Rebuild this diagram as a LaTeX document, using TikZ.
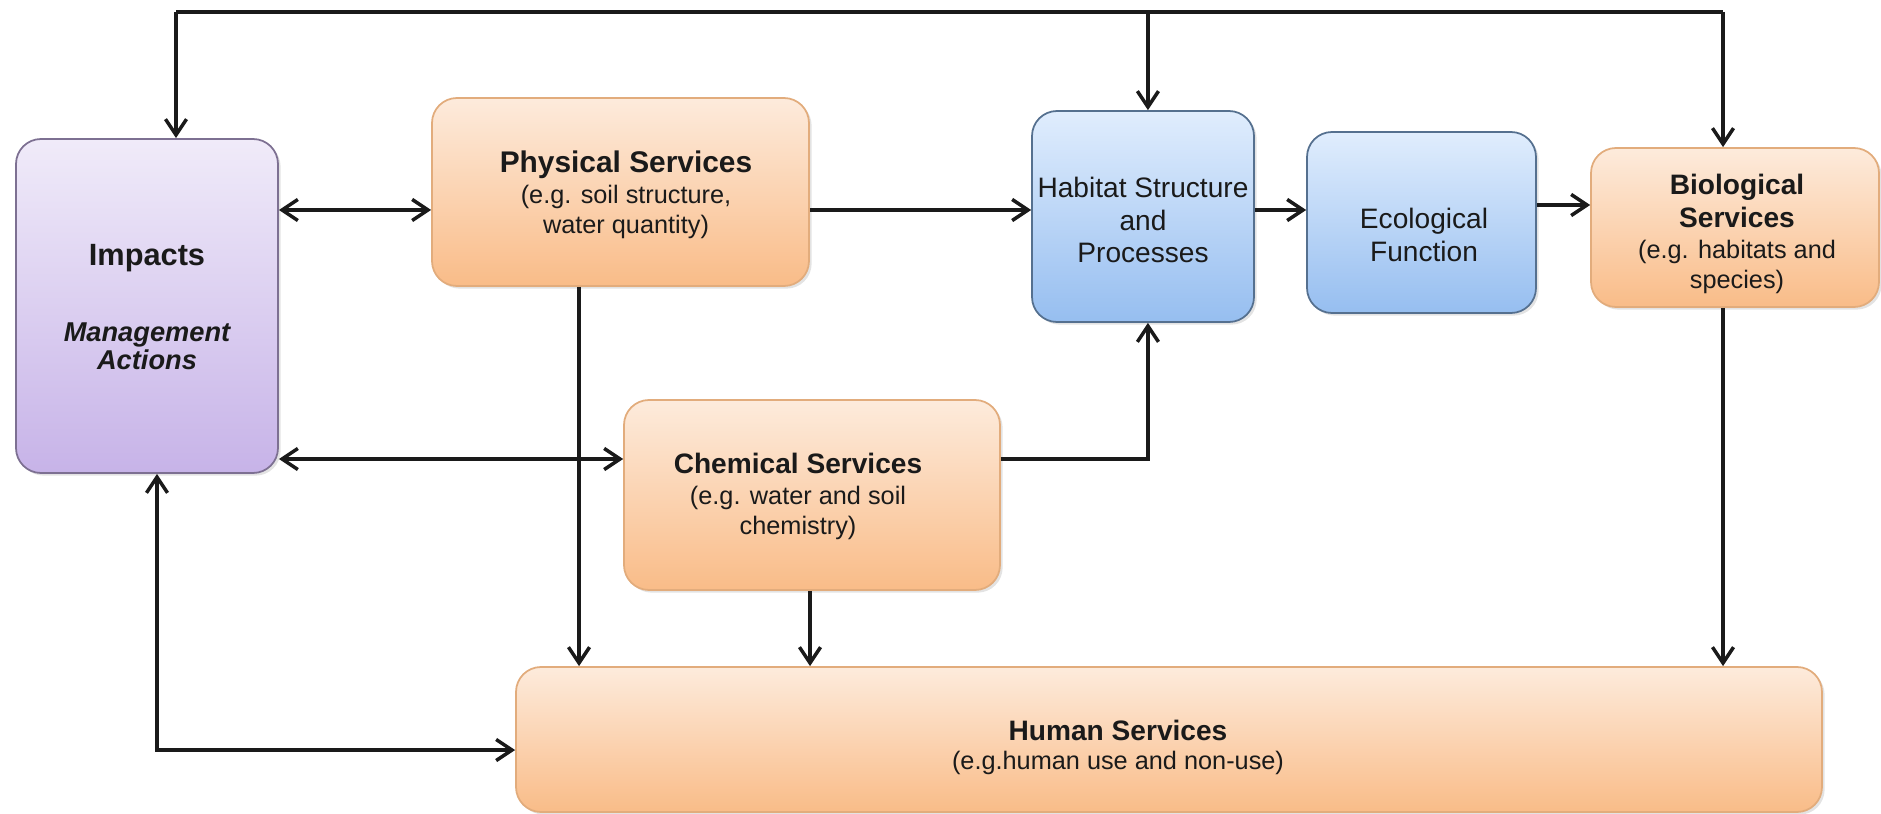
\documentclass[tikz,border=0pt]{standalone}
\usepackage{fontspec}
\setmainfont{Liberation Sans}
\usetikzlibrary{arrows.meta,fit,shadows}
\definecolor{orT}{HTML}{FDEBDC}
\definecolor{orB}{HTML}{F9BC88}
\definecolor{orL}{HTML}{E2AC7C}
\definecolor{blT}{HTML}{E0EDFD}
\definecolor{blB}{HTML}{96BEF0}
\definecolor{blL}{HTML}{55708F}
\definecolor{puT}{HTML}{F0EBF9}
\definecolor{puB}{HTML}{C7B3E8}
\definecolor{puL}{HTML}{7D7092}
\definecolor{ink}{HTML}{1A1A1A}
\begin{document}
\begin{tikzpicture}[x=0.02cm,y=-0.02cm,
  box/.style={rectangle, rounded corners=0.5cm, inner sep=0pt, line width=1pt,
    drop shadow={shadow xshift=1.5pt,shadow yshift=-1.5pt,opacity=0.22}},
  orangebox/.style={box, draw=orL, top color=orT, bottom color=orB},
  bluebox/.style={box, draw=blL, top color=blT, bottom color=blB},
  purplebox/.style={box, draw=puL, top color=puT, bottom color=puB},
  txt/.style={align=center, inner sep=0pt, text=ink},
  ttl/.style={txt, font=\fontsize{16}{18.8}\selectfont\bfseries},
  sub/.style={txt, font=\fontsize{14.4}{17}\selectfont},
  reg/.style={txt, font=\fontsize{16}{18.6}\selectfont},
  conn/.style={line width=2pt, draw=ink},
  >={Straight Barb[length=9pt,width=12pt]}]
\useasboundingbox (0,0) rectangle (1881,814);

% boxes
\node[purplebox, fit={(16,139) (278,473)}] (impacts) {};
\node[orangebox, fit={(432,98) (809,286)}] (phys) {};
\node[bluebox, fit={(1032,111) (1254,322)}] (hab) {};
\node[bluebox, fit={(1307,132) (1536,313)}] (eco) {};
\node[orangebox, fit={(1591,148) (1879,307)}] (bio) {};
\node[orangebox, fit={(624,400) (1000,590)}] (chem) {};
\node[orangebox, fit={(516,667) (1822,812)}] (hum) {};

% texts
\node[txt, font=\fontsize{17.5}{20}\selectfont\bfseries] (impacts-t) at (147,258) {Impacts};
\node[txt, font=\fontsize{15.5}{16.2}\selectfont\bfseries\itshape] (impacts-m) at (147,346) {Management\\Actions};
\node[txt, font=\fontsize{17}{19}\selectfont\bfseries] (phys-t) at (626,165) {Physical Services};
\node[sub] (phys-s) at (626,212) {(e.g. soil structure,\\water quantity)};
\node[reg] (hab-t) at (1143,220) {Habitat Structure\\and\\Processes};
\node[reg] (eco-t) at (1424,235) {Ecological\\Function};
\node[ttl] (bio-t) at (1737,201) {Biological\\Services};
\node[sub] (bio-s) at (1737,267) {(e.g. habitats and\\species)};
\node[ttl] (chem-t) at (798,463) {Chemical Services};
\node[sub] (chem-s) at (798,513) {(e.g. water and soil\\chemistry)};
\node[ttl] (hum-t) at (1118,730) {Human Services};
\node[sub] (hum-s) at (1118,763) {(e.g.human use and non-use)};

% top feedback line
\coordinate (tl) at (176,12);
\coordinate (tr) at (1723,12);
\coordinate (hn) at ([xshift=2.8pt]hab.north);
\coordinate (hs) at ([xshift=2.8pt]hab.south);
\draw[conn] (tl) -- (tr);
\draw[conn,->] (tl) -- (tl |- impacts.north);
\draw[conn,->] (hn |- tl) -- (hn);
\draw[conn,->] (tr) -- (tr |- bio.north);

% horizontal chain
\draw[conn,<->] (impacts.east |- 0,210) -- (phys.west |- 0,210);
\draw[conn,->] (phys.east |- 0,210) -- (hab.west |- 0,210);
\draw[conn,->] (hab.east |- 0,210) -- (eco.west |- 0,210);
\draw[conn,->] (eco.east |- 0,205) -- (bio.west |- 0,205);

% chemical links
\draw[conn,<->] (impacts.east |- 0,459) -- (chem.west |- 0,459);
\draw[conn,->] (chem.east |- 0,459) -| (hs);

% down to human services
\draw[conn,->] (phys.south -| 579,0) -- (hum.north -| 579,0);
\draw[conn,->] (chem.south -| 810,0) -- (hum.north -| 810,0);
\draw[conn,->] (bio.south -| 1723,0) -- (hum.north -| 1723,0);

% impacts <-> human
\draw[conn,<->] (impacts.south -| 157,0) |- (hum.west |- 0,750);
\end{tikzpicture}
\end{document}
